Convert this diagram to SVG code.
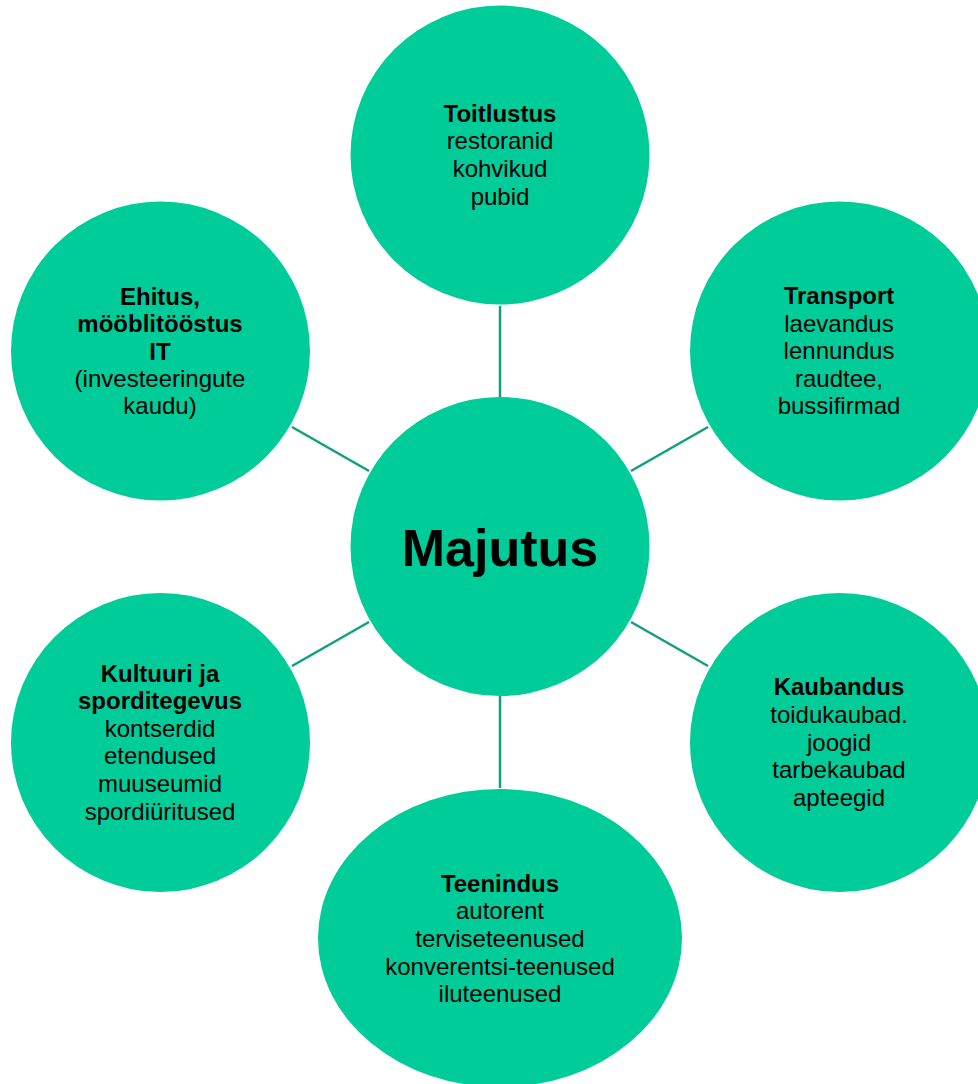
<svg xmlns="http://www.w3.org/2000/svg" width="978" height="1084" viewBox="0 0 978 1084">
<style>
.n{fill:#00CC99;}
.c line{stroke:#10A07C;stroke-width:2.5;}
text{font-family:"Liberation Sans",Arial,sans-serif;font-size:24px;fill:#000;text-anchor:middle;}
.b{font-weight:bold;}
.big{font-size:52px;font-weight:bold;}
</style>
<rect width="978" height="1084" fill="#fff"/>
<g class="c" id="connectors">
<line x1="500" y1="306" x2="500" y2="397"/>
<line x1="500" y1="696" x2="500" y2="788"/>
<line x1="292" y1="427" x2="369" y2="471"/>
<line x1="708" y1="427" x2="631" y2="471"/>
<line x1="369" y1="622" x2="292" y2="666"/>
<line x1="631" y1="622" x2="708" y2="666"/>
</g>
<g id="majutus">
<circle class="n" cx="500" cy="546.5" r="149.5"/>
<text class="big" x="500" y="566">Majutus</text>
</g>
<g id="toitlustus">
<circle class="n" cx="500" cy="155" r="149.5"/>
<text x="500"><tspan class="b" x="500" y="121.7">Toitlustus</tspan><tspan x="500" y="149.3">restoranid</tspan><tspan x="500" y="177">kohvikud</tspan><tspan x="500" y="204.5">pubid</tspan></text>
</g>
<g id="transport">
<circle class="n" cx="839.5" cy="351" r="149.5"/>
<text x="839"><tspan class="b" x="839" y="303.5">Transport</tspan><tspan x="839" y="331.5">laevandus</tspan><tspan x="839" y="359">lennundus</tspan><tspan x="839" y="386.7">raudtee,</tspan><tspan x="839" y="414.3">bussifirmad</tspan></text>
</g>
<g id="ehitus">
<circle class="n" cx="160.5" cy="351" r="149.5"/>
<text x="160"><tspan class="b" x="160" y="304.5">Ehitus,</tspan><tspan class="b" x="160" y="332.3">mööblitööstus</tspan><tspan class="b" x="160" y="360">IT</tspan><tspan x="160" y="386.7">(investeeringute</tspan><tspan x="160" y="414.3">kaudu)</tspan></text>
</g>
<g id="kultuur">
<circle class="n" cx="160.5" cy="742.5" r="149.5"/>
<text x="160"><tspan class="b" x="160" y="681.7">Kultuuri ja</tspan><tspan class="b" x="160" y="709">sporditegevus</tspan><tspan x="160" y="736.7">kontserdid</tspan><tspan x="160" y="764.3">etendused</tspan><tspan x="160" y="792">muuseumid</tspan><tspan x="160" y="819.5">spordiüritused</tspan></text>
</g>
<g id="kaubandus">
<circle class="n" cx="839.5" cy="742.5" r="149.5"/>
<text x="839"><tspan class="b" x="839" y="695.3">Kaubandus</tspan><tspan x="839" y="723">toidukaubad.</tspan><tspan x="839" y="750.7">joogid</tspan><tspan x="839" y="778.3">tarbekaubad</tspan><tspan x="839" y="806">apteegid</tspan></text>
</g>
<g id="teenindus">
<ellipse class="n" cx="500" cy="938" rx="182" ry="149"/>
<text x="500"><tspan class="b" x="500" y="891.7">Teenindus</tspan><tspan x="500" y="919.3">autorent</tspan><tspan x="500" y="947">terviseteenused</tspan><tspan x="500" y="974.5">konverentsi-teenused</tspan><tspan x="500" y="1002">iluteenused</tspan></text>
</g>
</svg>
